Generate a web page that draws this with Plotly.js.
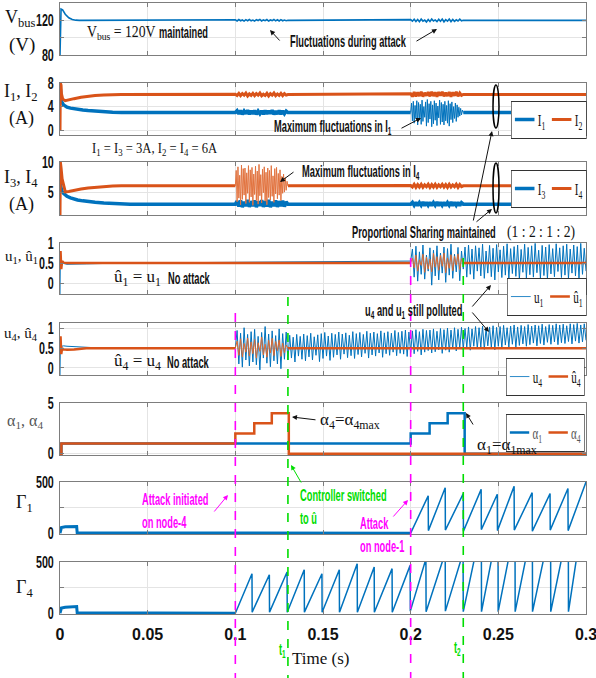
<!DOCTYPE html>
<html><head><meta charset="utf-8">
<script src="https://cdn.plot.ly/plotly-3.0.1.min.js"></script>
<style>body{margin:0;background:#fff}#chart{width:596px;height:678px}</style>
</head><body><div id="chart"></div>
<script>
// ---------------- DATA ----------------
const xTickVals = [0, 0.05, 0.1, 0.15, 0.2, 0.25, 0.3];
const xTickText = ['0', '0.05', '0.1', '0.15', '0.2', '0.25', '0.3'];

// Panel 1: Vbus (V)
const vbusNominal = 120;
const vbusStartT = [0, 0.0002, 0.0006, 0.0015, 0.003, 0.005, 0.007, 0.009, 0.011];
const vbusStartV = [80, 126, 133, 132, 127, 123, 121, 120.2, 120];
const vbusNoiseA = [120.6,119.3,120.9,119.5,120.4,119.1,120.8,119.6,121.0,119.4,120.3,119.2,120.7,119.8,121.1,119.3,120.5,119.6,120.9,119.2,120.4,119.7,121.0,119.4,120.6,119.3,120.8,119.5,120.3,119.6,120.0];
const vbusNoiseB = [120.8,119.0,121.2,118.6,120.9,118.4,121.5,119.1,120.3,118.2,121.0,118.7,121.6,119.3,120.5,118.5,121.3,118.9,121.4,118.3,120.7,119.0,121.5,118.6,121.1,118.8,120.6,119.2,121.3,119.4,120.0];

// Panel 2: I1, I2 (A)
const i1Nominal = 3.0, i2Nominal = 6.05;
const i1StartT = [0, 0.0003, 0.001, 0.002, 0.003, 0.004, 0.006, 0.008, 0.01, 0.013, 0.016, 0.02, 0.025, 0.03, 0.035];
const i1StartV = [7.5, 6.0, 4.8, 4.3, 4.05, 3.9, 3.75, 3.62, 3.52, 3.42, 3.33, 3.22, 3.12, 3.05, 3.0];
const i1NoiseA = [3.0,3.3,2.75,3.35,2.7,3.25,2.8,3.4,2.7,3.3,2.75,3.35,2.7,3.25,2.8,3.3,2.7,3.35,2.75,3.3,2.8,3.4,2.7,3.25,2.75,3.35,2.7,3.3,2.8,3.25,3.0];
const i1Heavy = [3.0,4.6,1.6,4.9,1.2,4.2,2.0,5.0,0.9,4.7,1.8,4.4,1.0,5.1,1.5,4.0,2.2,4.8,0.7,5.2,1.3,4.5,1.9,4.9,0.6,4.3,1.1,5.0,1.7,4.6,0.8,4.1,2.1,5.1,1.0,4.7,1.4,4.4,0.9,4.9,1.6,4.2,1.2,5.0,0.7,4.5,1.8,4.8,1.3,4.0,2.0,4.6,1.5,4.3,2.2,3.9,2.4,3.7,2.6,3.4,3.0];
const i2StartT = [0, 0.0002, 0.0004, 0.0006, 0.0008, 0.0015, 0.003, 0.005, 0.008, 0.012, 0.016, 0.02, 0.025, 0.03, 0.035];
const i2StartV = [0, 8.0, 0.5, 7.6, 6.2, 5.3, 5.0, 5.1, 5.35, 5.6, 5.78, 5.9, 5.98, 6.02, 6.05];
const i2NoiseA = [6.1,5.9,6.25,5.85,6.2,5.95,6.3,5.8,6.15,5.9,6.25,5.85,6.2,5.95,6.3,5.85,6.1,5.9,6.25,5.8,6.2,5.95,6.3,5.85,6.15,5.9,6.25,5.85,6.2,5.95,6.05];
const i2NoiseB = [6.2,5.7,6.45,5.75,6.4,5.8,6.5,5.7,6.35,5.85,6.45,5.75,6.5,5.8,6.4,5.7,6.45,5.85,6.5,5.75,6.35,5.8,6.45,5.7,6.4,5.85,6.5,5.75,6.3,5.9,6.05];

// Panel 3: I3, I4 (A)
const i3Nominal = 3.0, i4Nominal = 6.05;
const i3StartT = [0, 0.0003, 0.001, 0.002, 0.003, 0.004, 0.006, 0.008, 0.01, 0.013, 0.016, 0.02, 0.025, 0.03, 0.04];
const i3StartV = [6.5, 5.8, 5.2, 4.8, 4.5, 4.3, 4.05, 3.85, 3.7, 3.55, 3.42, 3.3, 3.18, 3.08, 3.0];
const i3NoiseA = [3.0,3.5,2.6,3.6,2.5,3.4,2.7,3.7,2.55,3.5,2.65,3.6,2.5,3.45,2.7,3.65,2.55,3.5,2.6,3.7,2.5,3.4,2.7,3.6,2.55,3.5,2.65,3.55,2.6,3.4,3.0];
const i3NoiseB = [3.0,3.3,2.8,3.3,2.75,3.25,2.8,3.35,2.75,3.3,2.8,3.3,2.75,3.25,2.8,3.35,2.75,3.3,2.8,3.3,2.75,3.25,2.8,3.35,2.75,3.3,2.8,3.3,2.75,3.25,3.0];
const i4StartT = [0, 0.0002, 0.0004, 0.0006, 0.0012, 0.002, 0.003, 0.005, 0.008, 0.012, 0.016, 0.02, 0.025, 0.03, 0.035];
const i4StartV = [1.2, 10, 2, 9, 7.2, 6.0, 5.05, 5.1, 5.3, 5.5, 5.7, 5.82, 5.92, 6.0, 6.05];
const i4Heavy = [6.0,8.6,3.4,9.2,4.0,7.8,2.9,9.5,3.8,8.9,4.5,9.0,3.1,8.2,4.8,9.4,3.3,8.7,4.2,9.1,2.8,8.0,4.6,9.3,3.6,8.5,3.0,9.6,4.4,7.9,3.2,8.8,4.9,9.2,3.5,8.3,2.9,9.0,4.1,8.6,3.7,9.4,4.3,7.7,3.3,8.9,4.7,9.1,3.9,8.1,4.5,8.7,3.6,7.6,4.8,8.0,5.0,7.4,5.3,6.8,6.0];
const i4NoiseB = [6.1,5.85,6.3,5.8,6.25,5.85,6.3,5.8,6.2,5.9,6.3,5.8,6.25,5.85,6.3,5.8,6.2,5.9,6.3,5.85,6.25,5.8,6.3,5.85,6.2,5.9,6.3,5.8,6.25,5.9,6.05];

// Panel 4: u1, u1-hat
const uNominal = 0.5;
const u1StartT = [0, 0.0002, 0.0005, 0.001, 0.002, 0.004, 0.008, 0.015, 0.025, 0.035];
const u1StartV = [-0.27, 0.65, 0.4, 0.52, 0.49, 0.47, 0.47, 0.48, 0.49, 0.5];
const u1Noise = [0.55,0.85,0.15,0.92,0.05,0.78,0.22,0.95,0.10,0.70,0.30,0.88,-0.05,0.82,0.18,0.93,0.08,0.75,0.25,0.90,0.02,0.86,0.20,0.97,0.12,0.72,0.28,0.89,0.06,0.80,0.35,
  0.90,0.15,0.95,0.22,0.85,0.10,0.93,0.30,0.88,0.18,0.97,0.12,0.80,0.25,0.94,0.16,0.87,0.08,0.96,0.28,0.83,0.14,0.92,0.20,0.98,0.11,0.86,0.24,0.91,0.17,0.95,0.09,0.84,0.27,0.97,0.13,0.89,0.21,0.93,0.15,0.99,0.26,0.82,0.12,0.94,0.19,0.90,0.10,0.96,0.23,0.86,0.16,0.98,0.29,0.88,0.14,0.93,0.20,0.97,0.11,0.85,0.25,0.95,0.18,0.91,0.13,0.99,0.22,0.87,0.30];
const uh1StartT = [0, 0.0003, 0.0007, 0.0012, 0.002, 0.004];
const uh1StartV = [0.5, 0.8, 0.35, 0.55, 0.51, 0.5];
const uh1Noise = [0.50,0.62,0.38,0.70,0.30,0.58,0.44,0.72,0.27,0.65,0.35,0.60,0.28,0.74,0.40,0.66,0.32,0.69,0.42,0.75,0.26,0.63,0.37,0.71,0.31,0.67,0.45,0.73,0.34,0.61,0.50];

// Panel 5: u4, u4-hat
const u4StartT = [0, 0.0002, 0.0005, 0.001, 0.002, 0.004, 0.008, 0.015, 0.025];
const u4StartV = [-0.18, 0.6, 0.45, 0.55, 0.56, 0.55, 0.54, 0.52, 0.5];
const u4Noise = [
  0.50,0.95,0.10,0.88,0.02,1.02,0.20,0.85,0.05,0.92,
  0.15,0.98,0.08,0.80,-0.05,0.90,0.25,1.05,0.12,0.86,
  0.03,0.94,0.18,0.82,0.10,0.99,-0.02,0.87,0.22,0.91,
  0.20,0.83,0.25,0.78,0.15,0.85,0.30,0.80,0.22,0.86,
  0.18,0.82,0.28,0.88,0.20,0.79,0.32,0.84,0.16,0.87,
  0.24,0.90,0.30,0.81,0.19,0.88,0.27,0.85,0.33,0.91,
  0.22,0.86,0.35,0.89,0.26,0.83,0.31,0.92,0.24,0.87,
  0.34,0.90,0.28,0.85,0.37,0.93,0.25,0.88,0.33,0.91,
  0.30,0.87,0.38,0.94,0.27,0.89,0.36,0.92,0.32,0.88,
  0.40,0.95,0.31,0.90,0.37,0.93,0.35,0.96,0.29,0.91,
  0.39,0.94,0.36,0.97,0.42,0.92,0.33,0.98,0.40,0.95,
  0.44,0.96,0.38,0.99,0.41,0.93,0.46,1.00,0.37,0.97,
  0.45,1.01,0.40,0.96,0.48,1.02,0.43,0.98,0.50,1.03,
  0.47,1.00,0.52,1.04,0.45,0.99,0.55,1.05,0.49,1.02,
  0.53,1.06,0.47,1.01,0.56,1.04,0.51,1.07,0.46,1.03,
  0.55,1.05,0.50,1.08,0.58,1.02,0.53,1.06,0.60,1.09,
  0.52,1.04,0.57,1.08,0.61,1.05,0.55,1.10,0.59,1.06,
  0.63,1.09,0.56,1.07,0.62,1.11,0.58,1.05,0.65,1.10,
  0.60,1.08,0.66,1.12,0.59,1.09,0.64,1.11,0.62,1.07,
  0.67,1.12,0.61,1.10,0.68,1.13,0.63,1.09,0.66,1.12,0.70];
const uh4StartT = [0, 0.0003, 0.0007, 0.0012, 0.002, 0.004, 0.008, 0.015];
const uh4StartV = [0.5, 0.8, 0.35, 0.5, 0.47, 0.46, 0.47, 0.5];
const uh4Noise = [0.50,0.68,0.32,0.74,0.28,0.62,0.40,0.76,0.30,0.66,0.36,0.72,0.25,0.64,0.42,0.78,0.33,0.60,0.27,0.70,0.38,0.75,0.31,0.67,0.44,0.71,0.29,0.63,0.39,0.58,0.50];

// Panel 6: alpha1, alpha4 (step signals)
const alpha1T = [0, 0.0008, 0.2, 0.2108, 0.2211, 0.2308, 0.3];
const alpha1V = [0, 1, 2, 3, 4, 0, 0];
const alpha4T = [0, 0.0008, 0.1, 0.1108, 0.1208, 0.1305, 0.3];
const alpha4V = [0, 1, 2, 3, 4, 0, 0];

// Panel 7: Gamma1
const g1PreT = [0, 0.0008, 0.003, 0.0095, 0.0098, 0.012, 0.02, 0.021, 0.2];
const g1PreV = [0, 55, 62, 65, 5, 5, 3, 0, 0];
const g1SawT = [0.2, 0.2100, 0.2101, 0.2197, 0.2198, 0.2300, 0.2301, 0.2402, 0.2403, 0.2494, 0.2495, 0.2590, 0.2591, 0.2693, 0.2694, 0.2795, 0.2796, 0.2897, 0.2898, 0.3];
const g1SawV = [0, 365, 25, 443, 30, 387, 20, 428, 35, 380, 25, 459, 30, 396, 20, 387, 30, 437, 25, 500];

// Panel 8: Gamma4
const g4PreT = [0, 0.0008, 0.003, 0.0095, 0.0098, 0.012, 0.02, 0.021, 0.1];
const g4PreV = [0, 50, 58, 65, 5, 5, 3, 0, 0];
const g4SawT = [0.1, 0.1095, 0.1096, 0.1194, 0.1195, 0.1295, 0.1296, 0.1393, 0.1394, 0.1494, 0.1495, 0.1593, 0.1594, 0.1695, 0.1696, 0.1792, 0.1793, 0.1894, 0.1895, 0.1997, 0.1998,
  0.2087, 0.2088, 0.2197, 0.2198, 0.2299, 0.2300, 0.2403, 0.2404, 0.2498, 0.2499, 0.2595, 0.2596, 0.2694, 0.2695, 0.2798, 0.2799, 0.2899, 0.2900, 0.3];
const g4SawV = [0, 385, 10, 376, 10, 402, 10, 425, 10, 385, 10, 425, 10, 484, 10, 451, 10, 435, 10, 467, 20,
  530, 15, 590, 20, 590, 15, 850, 15, 850, 15, 850, 15, 850, 15, 850, 15, 850, 15, 1150];

// ---------------- STYLE ----------------
const BLUE = '#0072BD', ORANGE = '#D95319', MAG = '#FF00FF', GRN = '#00DD00';
const SERIF = 'Liberation Serif, Times New Roman, serif';
const SANS = 'Liberation Sans, Arial, sans-serif';
const W = 596, H = 678, ML = 60, MR = 10;

function span(t0, t1, vals) { const n = vals.length, dt = (t1 - t0) / (n - 1); return vals.map((v, i) => t0 + i * dt); }
function join(parts) { const x = [], y = []; parts.forEach(p => { x.push(...p[0]); y.push(...p[1]); }); return { x, y }; }
function tr(k, d, color, width, extra) {
  return Object.assign({ type: 'scatter', mode: 'lines', x: d.x, y: d.y, xaxis: 'x' + (k === 1 ? '' : k), yaxis: 'y' + (k === 1 ? '' : k),
    line: { color: color, width: width }, showlegend: false, connectgaps: false, hoverinfo: 'skip' }, extra || {});
}

const traces = [];
traces.push(tr(1, join([[vbusStartT, vbusStartV], [span(0.1, 0.13, vbusNoiseA), vbusNoiseA], [span(0.2, 0.23, vbusNoiseB), vbusNoiseB], [[0.3], [vbusNominal]]]), BLUE, 1.6));
traces.push(tr(2, join([[i1StartT, i1StartV], [span(0.1, 0.13, i1NoiseA), i1NoiseA], [[0.2, 0.2001, 0.23, 0.3], [i1Nominal, null, i1Nominal, i1Nominal]]]), BLUE, 3.5, { name: 'I<sub>1</sub>', showlegend: true, legend: 'legend' }));
traces.push(tr(2, { x: span(0.2, 0.23, i1Heavy), y: i1Heavy }, BLUE, 1));
traces.push(tr(2, join([[i2StartT, i2StartV], [span(0.1, 0.13, i2NoiseA), i2NoiseA], [span(0.2, 0.23, i2NoiseB), i2NoiseB], [[0.3], [i2Nominal]]]), ORANGE, 3, { name: 'I<sub>2</sub>', showlegend: true, legend: 'legend' }));
traces.push(tr(3, join([[i3StartT, i3StartV], [span(0.1, 0.13, i3NoiseA), i3NoiseA], [span(0.2, 0.23, i3NoiseB), i3NoiseB], [[0.3], [i3Nominal]]]), BLUE, 3.5, { name: 'I<sub>3</sub>', showlegend: true, legend: 'legend2' }));
traces.push(tr(3, join([[i4StartT, i4StartV], [[0.1, 0.1001, 0.13], [i4Nominal, null, i4Nominal]], [span(0.2, 0.23, i4NoiseB), i4NoiseB], [[0.3], [i4Nominal]]]), ORANGE, 3, { name: 'I<sub>4</sub>', showlegend: true, legend: 'legend2' }));
traces.push(tr(3, { x: span(0.1, 0.13, i4Heavy), y: i4Heavy }, '#E2733F', 1));
traces.push(tr(4, join([[u1StartT, u1StartV], [span(0.2, 0.3, u1Noise), u1Noise]]), BLUE, 1, { name: 'u<sub>1</sub>', showlegend: true, legend: 'legend3' }));
traces.push(tr(4, { x: span(0.2, 0.23, uh1Noise), y: uh1Noise }, '#DE6A30', 1));
traces.push(tr(4, join([[uh1StartT, uh1StartV], [[0.2, 0.2001, 0.23, 0.3], [uNominal, null, uNominal, uNominal]]]), ORANGE, 2.5, { name: 'û<sub>1</sub>', showlegend: true, legend: 'legend3' }));
traces.push(tr(5, join([[u4StartT, u4StartV], [span(0.1, 0.3, u4Noise), u4Noise]]), BLUE, 1, { name: 'u<sub>4</sub>', showlegend: true, legend: 'legend4' }));
traces.push(tr(5, { x: span(0.1, 0.13, uh4Noise), y: uh4Noise }, '#DE6A30', 1));
traces.push(tr(5, join([[uh4StartT, uh4StartV], [[0.1, 0.1001, 0.13, 0.3], [uNominal, null, uNominal, uNominal]]]), ORANGE, 2.5, { name: 'û<sub>4</sub>', showlegend: true, legend: 'legend4' }));
traces.push(tr(6, { x: alpha1T, y: alpha1V }, BLUE, 2.5, { line: { color: BLUE, width: 2.5, shape: 'hv' }, name: 'α<sub>1</sub>', showlegend: true, legend: 'legend5' }));
traces.push(tr(6, { x: alpha4T, y: alpha4V }, ORANGE, 2.5, { line: { color: ORANGE, width: 2.5, shape: 'hv' }, name: 'α<sub>4</sub>', showlegend: true, legend: 'legend5' }));
traces.push(tr(7, { x: g1PreT, y: g1PreV }, BLUE, 3));
traces.push(tr(7, { x: g1SawT, y: g1SawV }, BLUE, 1.5));
traces.push(tr(8, { x: g4PreT, y: g4PreV }, BLUE, 3));
traces.push(tr(8, { x: g4SawT, y: g4SawV }, BLUE, 1.5));

// ---------------- LAYOUT ----------------
const panels = [
  { top: 3, bot: 55, range: [80, 140], tv: [80, 100, 120], tt: ['80', '', '120'] },
  { top: 83, bot: 135, range: [-0.8, 8], tv: [0, 4, 8], tt: ['0', '4', '8'] },
  { top: 162, bot: 215, range: [1.2, 10], tv: [5, 10], tt: ['5', '10'] },
  { top: 243, bot: 294, range: [-0.27, 1.0], tv: [0, 0.5, 1], tt: ['0', '0.5', '1'] },
  { top: 323, bot: 375, range: [-0.18, 1.14], tv: [0, 0.5, 1], tt: ['0', '0.5', '1'] },
  { top: 403, bot: 455, range: [-0.12, 5], tv: [0, 5], tt: ['0', '5'] },
  { top: 482, bot: 534, range: [-8, 500], tv: [0, 250, 500], tt: ['0', '', '500'] },
  { top: 562, bot: 614, range: [-8, 500], tv: [0, 250, 500], tt: ['0', '', '500'] }
];
const layout = {
  width: W, height: H, margin: { l: ML, r: MR, t: 0, b: 0 }, paper_bgcolor: '#fff', plot_bgcolor: '#fff',
  showlegend: true, annotations: [], shapes: []
};
const axLine = { showline: true, linecolor: '#7d7d7d', linewidth: 1, mirror: 'ticks', ticks: 'inside', ticklen: 4, tickcolor: '#7d7d7d',
  showgrid: true, gridcolor: '#e4e4e4', gridwidth: 1, zeroline: false, fixedrange: true };
panels.forEach((p, i) => {
  const k = i + 1, s = k === 1 ? '' : k;
  layout['xaxis' + s] = Object.assign({}, axLine, { domain: [0, 1], anchor: 'y' + s, range: [0, 0.3], tickvals: xTickVals, ticktext: xTickText,
    showticklabels: k === 8, tickfont: { family: SANS, size: 16, color: '#111', weight: 'bold' }, ticklabelstandoff: 6, ticklabeloverflow: 'allow' });
  layout['yaxis' + s] = Object.assign({}, axLine, { domain: [1 - p.bot / H, 1 - p.top / H], anchor: 'x' + s, range: p.range, tickvals: p.tv, ticktext: p.tt,
    tickfont: { family: SANS, size: 16, color: '#111', weight: 'bold' }, ticklabelstandoff: 2 });
});

function P(px, py) { return { x: (px - ML) / (W - ML - MR), y: (H - py) / H }; }
function legendAt(right, top, col) {
  const p = P(right, top);
  return { x: p.x, y: p.y, xanchor: 'right', yanchor: 'top', orientation: 'h', bgcolor: '#fff', bordercolor: '#333', borderwidth: 1,
    font: { family: SERIF, size: 17, color: col || '#111' }, itemwidth: 30, tracegroupgap: 0 };
}
layout.legend = legendAt(587, 101);
layout.legend2 = legendAt(587, 170);
layout.legend3 = legendAt(587, 278);
layout.legend4 = legendAt(585, 358);
layout.legend5 = legendAt(585, 414, '#555');
const legendWidths = [['legend', 75], ['legend2', 75], ['legend3', 79], ['legend4', 78], ['legend5', 78]];

const squeeze = []; // [annotation index, horizontal scale]: the reference uses a condensed face
function txt(s, px, py, o) {
  const p = P(px, py);
  return Object.assign({ xref: 'paper', yref: 'paper', x: p.x, y: p.y, text: s, showarrow: false, xanchor: 'left', yanchor: 'middle',
    font: { family: SANS, size: 16, color: '#111', weight: 'bold' } }, o || {});
}
function ser(s, px, py, size, o) { return txt(s, px, py, Object.assign({ font: { family: SERIF, size: size, color: '#111' } }, o || {})); }
function arrow(hx, hy, tx, ty, color) {
  const p = P(hx, hy);
  return { xref: 'paper', yref: 'paper', x: p.x, y: p.y, ax: tx - hx, ay: ty - hy, text: '', showarrow: true,
    arrowhead: 2, arrowsize: 1, arrowwidth: 1, arrowcolor: color || '#111' };
}
const A = layout.annotations;
function addS(a, s) { squeeze.push([A.length, s || 0.58]); A.push(a); }
// y-axis titles
A.push(ser('V<sub>bus</sub>', 20, 18, 18, { xanchor: 'center' }));
A.push(ser('(V)', 22, 45, 19, { xanchor: 'center' }));
A.push(ser('I<sub>1</sub>, I<sub>2</sub>', 21, 92, 18, { xanchor: 'center' }));
A.push(ser('(A)', 21, 118, 18, { xanchor: 'center' }));
A.push(ser('I<sub>3</sub>, I<sub>4</sub>', 21, 178, 18, { xanchor: 'center' }));
A.push(ser('(A)', 21, 204, 18, { xanchor: 'center' }));
A.push(ser('u<sub>1</sub>, û<sub>1</sub>', 21, 257, 15, { xanchor: 'center' }));
A.push(ser('u<sub>4</sub>, û<sub>4</sub>', 21, 334, 15, { xanchor: 'center' }));
A.push(txt('α<sub>1</sub>, α<sub>4</sub>', 25, 421, { xanchor: 'center', font: { family: SERIF, size: 16, color: '#555' } }));
A.push(ser('Γ<sub>1</sub>', 24, 503, 18, { xanchor: 'center' }));
A.push(ser('Γ<sub>4</sub>', 24, 588, 18, { xanchor: 'center' }));
A.push(ser('Time (s)', 320, 658, 17, { xanchor: 'center' }));
// in-plot texts
addS(ser('V<sub>bus</sub> = 120V', 85, 33, 16), 0.86);
addS(txt('maintained', 157, 33));
addS(txt('Fluctuations during attack', 288, 42));
addS(txt('Maximum fluctuations in I<sub>1</sub>', 272, 127));
addS(ser('I<sub>1</sub> = I<sub>3</sub> = 3A, I<sub>2</sub> = I<sub>4</sub> = 6A', 90, 149, 15), 0.84);
addS(txt('Maximum fluctuations in I<sub>4</sub>', 300, 172));
addS(txt('Proportional Sharing maintained', 350, 232));
addS(ser('(1 : 2 : 1 : 2)', 505, 232, 16), 0.85);
A.push(ser('û<sub>1</sub> = u<sub>1</sub>', 112, 278, 17));
addS(txt('No attack', 166, 278));
A.push(ser('û<sub>4</sub> = u<sub>4</sub>', 112, 362, 17));
addS(txt('No attack', 165, 362));
addS(txt('u<sub>4</sub> and u<sub>1</sub> still polluted', 363, 311));
A.push(ser('α<sub>4</sub>=α<sub>4max</sub>', 318, 421, 17));
A.push(ser('α<sub>1</sub>=α<sub>1max</sub>', 475, 446, 17));
const magF = { family: SANS, size: 16, color: MAG, weight: 'bold' }, grnF = { family: SANS, size: 16, color: GRN, weight: 'bold' };
addS(txt('Attack initiated', 140, 499, { font: magF }));
addS(txt('on node-4', 140, 522, { font: magF }));
addS(txt('Controller switched', 298, 495, { font: grnF }));
addS(txt('to û', 298, 518, { font: grnF }));
addS(txt('Attack', 358, 523, { font: magF }));
addS(txt('on node-1', 358, 546, { font: magF }));
addS(txt('t<sub>1</sub>', 277, 650, { font: grnF }));
addS(txt('t<sub>2</sub>', 452, 648, { font: grnF }));
// arrows
A.push(arrow(270, 30, 281, 42));
A.push(arrow(437, 29, 415, 42));
A.push(arrow(421, 118, 400, 129));
A.push(arrow(280, 182, 295, 171));
A.push(arrow(492, 131, 473, 222));
A.push(arrow(492, 209, 475, 223));
A.push(arrow(491, 285, 471, 308));
A.push(arrow(489, 332, 471, 311));
A.push(arrow(292, 417, 317, 420));
A.push(arrow(466, 413, 474, 426));
A.push(arrow(228, 495, 213, 513, MAG));
A.push(arrow(291, 465, 302, 484, GRN));
A.push(arrow(408, 500, 392, 518, MAG));

// shapes: event lines and ellipses
const S = layout.shapes;
function vline(t, topPx, color) {
  S.push({ type: 'line', xref: 'x', yref: 'paper', x0: t, x1: t, y0: (H - topPx) / H, y1: 0, line: { color: color, width: 1.6, dash: 'dash' }, layer: 'above' });
}
vline(0.1, 313, MAG); vline(0.2, 258, MAG); vline(0.13, 297, GRN); vline(0.23, 258, GRN);
function ell(x0, y0, x1, y1) {
  const a = P(x0, y1), b = P(x1, y0);
  S.push({ type: 'circle', xref: 'paper', yref: 'paper', x0: a.x, y0: a.y, x1: b.x, y1: b.y, line: { color: '#000', width: 1.5 }, layer: 'above' });
}
ell(493, 85, 499, 128); ell(493, 163, 499, 213);

function condense(el, s, anchor) {
  const b = el.getBBox();
  const ax = anchor === 'right' ? b.x + b.width : anchor === 'center' ? b.x + b.width / 2 : b.x;
  const t = el.getAttribute('transform') || '';
  el.setAttribute('transform', t + ' translate(' + ax + ',0) scale(' + s + ',1) translate(' + (-ax) + ',0)');
}
Plotly.newPlot('chart', traces, layout, { displayModeBar: false, staticPlot: true }).then(gd => {
  squeeze.forEach(([i, s]) => {
    const el = gd.querySelector('.annotation[data-index="' + i + '"] text.annotation-text');
    if (el) condense(el, s, 'left');
  });
  gd.querySelectorAll('.yaxislayer-above text').forEach(el => condense(el, 0.67, 'right'));
  legendWidths.forEach(([id, target]) => {
    const g = gd.querySelector('g.' + id);
    if (!g) return;
    const bg = g.querySelector('rect.bg');
    const w = bg ? +bg.getAttribute('width') : 0;
    if (!w) return;
    const s = target / w;
    const t = g.getAttribute('transform') || '';
    g.setAttribute('transform', t + ' translate(' + w + ',0) scale(' + s + ',1) translate(' + (-w) + ',0)');
  });
});
</script></body></html>
